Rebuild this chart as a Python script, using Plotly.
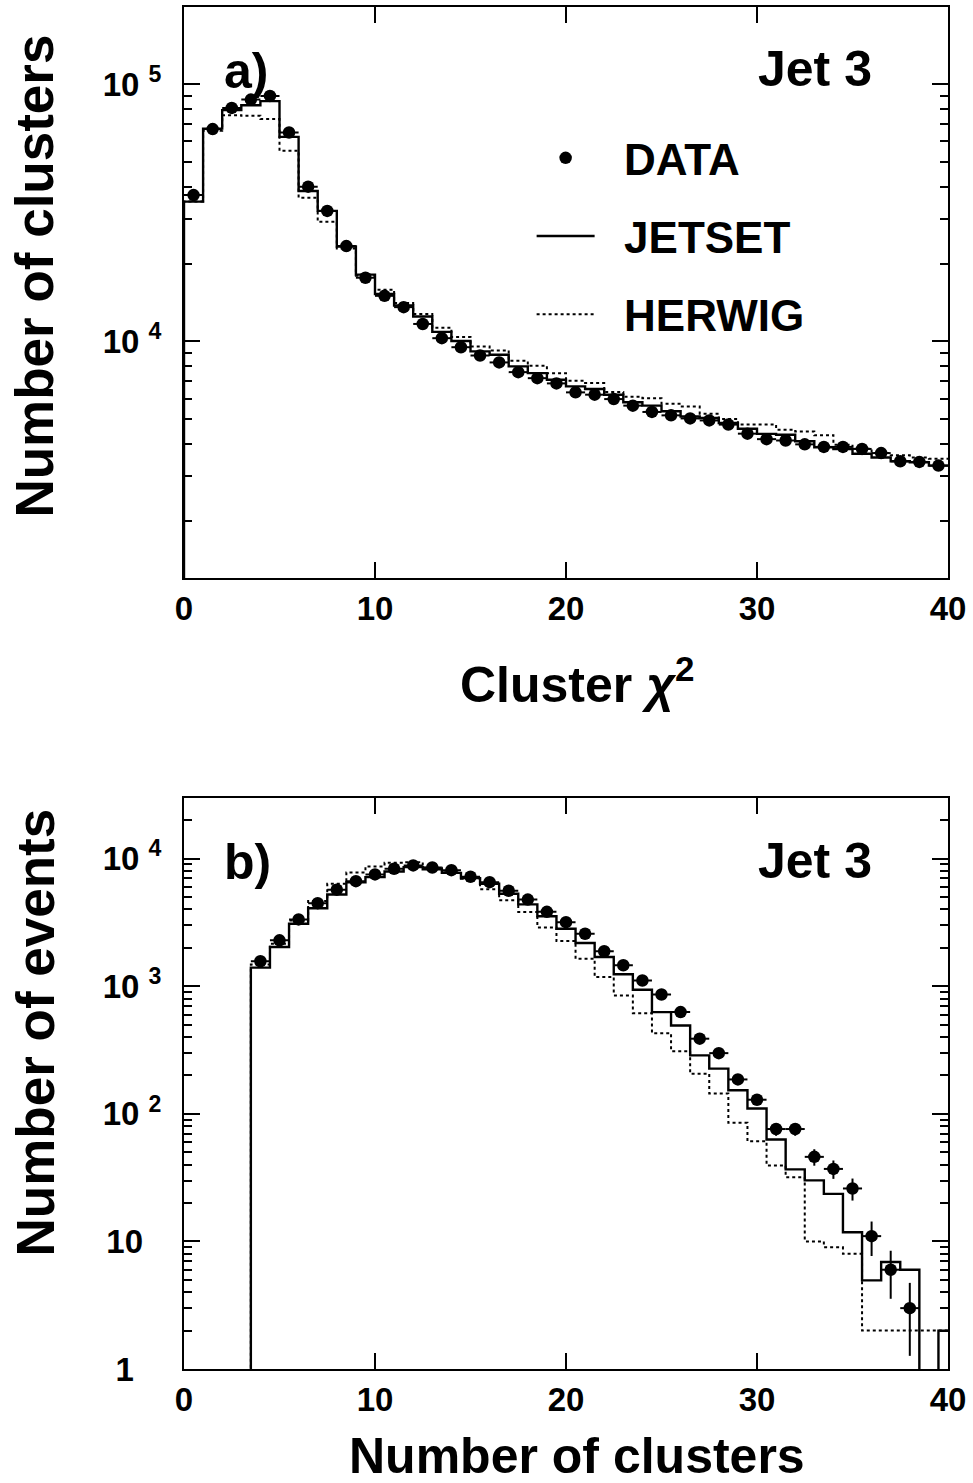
import numpy as np
import plotly.graph_objects as go

# ---------------- panel a): cluster chi2, unit bins from 0 to 40 ----------------
chi2_lo = 0.0
chi2_width = 1.0
chi2_data = [37100, 67000, 81000, 87300, 90200, 65000, 40000, 32200, 23500, 17700,
             15050, 13600, 11700, 10300, 9500, 8820, 8290, 7600, 7200, 6870,
             6340, 6210, 5970, 5630, 5320, 5160, 5020, 4930, 4750, 4380,
             4170, 4120, 3980, 3890, 3890, 3820, 3680, 3420, 3400, 3290]
chi2_jetset = [35000, 67300, 79400, 83000, 86100, 62500, 38500, 32200, 23400, 18200,
               15300, 13800, 12500, 10900, 10050, 9150, 8880, 8000, 7530, 7100,
               6690, 6530, 6210, 5800, 5630, 5350, 5110, 5040, 4820, 4580,
               4370, 4340, 4090, 3880, 3820, 3660, 3540, 3420, 3390, 3290]
chi2_herwig = [35000, 66000, 75900, 75500, 73300, 55200, 36200, 29200, 23000, 18000,
               15900, 14100, 12800, 11300, 10400, 9560, 9230, 8410, 8050, 7530,
               7040, 6890, 6360, 6100, 6020, 5730, 5590, 5240, 4990, 4750,
               4750, 4540, 4470, 4320, 3970, 3830, 3680, 3610, 3540, 3500]

# ---------------- panel b): clusters per event, n = 4 .. 40 ----------------
ncl_first = 4
ncl_data = [1570, 2290, 3340, 4480, 5710, 6660, 7520, 8330, 8850, 8530,
            8130, 7210, 6540, 5600, 4780, 3830, 3180, 2580, 1880, 1460,
            1110, 862, 627, 388, 299, 186, 129, 76, 76, 46,
            37, 26, 11, 6, 3, 0, 0]
ncl_jetset = [1400, 2030, 3090, 4090, 5240, 6540, 7160, 7940, 8580, 8260,
              7730, 7040, 6360, 5310, 4380, 3540, 2820, 2180, 1695, 1240,
              939, 627, 493, 287, 226, 153, 110, 63, 36.7, 30.1,
              23.6, 11.8, 4.95, 6.9, 6.0, 0, 2.0]
ncl_herwig = [1480, 2150, 3280, 4650, 6360, 7800, 8690, 9300, 9390, 8500,
              7840, 6960, 5770, 4730, 3810, 2890, 2260, 1640, 1180, 847,
              615, 429, 310, 206, 144, 85, 61, 39.4, 31.9, 10,
              9, 8, 2, 2, 2, 2, 2]

# tick labels
x_ticks = [0, 10, 20, 30, 40]
ya_ticks = [1e4, 1e5]
ya_labels = ["10 <sup>4</sup>", "10 <sup>5</sup>"]
yb_ticks = [1, 10, 100, 1000, 10000]
yb_labels = ["1\u00a0\u00a0\u00a0", "10\u00a0\u00a0", "10 <sup>2</sup>", "10 <sup>3</sup>", "10 <sup>4</sup>"]

FONT = "Liberation Sans"
FLOOR = 1e-3  # empty bins are drawn down to below the axis


def step_xy(lo, width, vals):
    """Histogram outline: edges and contents for an 'hv' line."""
    edges = lo + width * np.arange(len(vals) + 1)
    y = [v if v > 0 else FLOOR for v in vals]
    xs = [edges[0]] + list(edges)
    ys = [FLOOR] + y + [y[-1]]
    return xs, ys


fig = go.Figure()


def add_panel(xref, yref, lo, width, data, jetset, herwig, show_legend):
    xs, ys = step_xy(lo, width, jetset)
    fig.add_trace(go.Scatter(x=xs, y=ys, mode="lines", line=dict(color="black", width=2.4, shape="hv"),
                             name="\u00a0\u00a0JETSET", legendgroup="j", showlegend=show_legend,
                             xaxis=xref, yaxis=yref))
    xs, ys = step_xy(lo, width, herwig)
    fig.add_trace(go.Scatter(x=xs, y=ys, mode="lines",
                             line=dict(color="black", width=2, shape="hv", dash="dot"),
                             name="\u00a0\u00a0HERWIG", legendgroup="h", showlegend=show_legend,
                             xaxis=xref, yaxis=yref))
    centres = lo + width * (np.arange(len(data)) + 0.5)
    keep = [i for i, v in enumerate(data) if v > 0]
    px = [centres[i] for i in keep]
    py = [data[i] for i in keep]
    fig.add_trace(go.Scatter(x=px, y=py, mode="markers",
                             marker=dict(color="black", size=12.5, symbol="circle"),
                             error_x=dict(type="constant", value=width / 2, color="black", thickness=2, width=0),
                             error_y=dict(type="data", array=list(np.sqrt(py)), color="black", thickness=2, width=0),
                             name="\u00a0\u00a0DATA", legendgroup="d", legendrank=1, showlegend=show_legend,
                             xaxis=xref, yaxis=yref))


add_panel("x", "y", chi2_lo, chi2_width, chi2_data, chi2_jetset, chi2_herwig, True)
add_panel("x2", "y2", ncl_first - 0.5, 1.0, ncl_data, ncl_jetset, ncl_herwig, False)

tickfont = dict(family=FONT, size=33, color="black", weight="bold")
common_x = dict(range=[0, 40], tickmode="array", tickvals=x_ticks, ticktext=[str(v) for v in x_ticks],
                ticks="inside", ticklen=16, tickwidth=2, tickcolor="black",
                showline=True, linewidth=2, linecolor="black", mirror="ticks",
                showgrid=False, zeroline=False, tickfont=tickfont, ticklabelstandoff=0)
common_y = dict(type="log", tickmode="array", ticks="inside", ticklen=16, tickwidth=2, tickcolor="black",
                showline=True, linewidth=2, linecolor="black", mirror="ticks",
                showgrid=False, zeroline=False, tickfont=tickfont, ticklabelstandoff=14)


def minor_vals(lo_dec, hi_dec, vmin, vmax):
    out = []
    for d in range(lo_dec, hi_dec + 1):
        for m in range(2, 10):
            v = m * 10 ** d
            if vmin < v < vmax:
                out.append(v)
    return out


ya_min, ya_max = 1200, 2e5
yb_min, yb_max = 1, 3e4

fig.update_layout(
    width=973, height=1483,
    margin=dict(l=184, r=25, t=5, b=114),
    paper_bgcolor="white", plot_bgcolor="white",
    font=dict(family=FONT, color="black"),
    xaxis=dict(domain=[0, 1], anchor="y", **common_x),
    yaxis=dict(domain=[0.5806, 1], anchor="x", range=[np.log10(ya_min), np.log10(ya_max)],
               tickvals=ya_ticks, ticktext=ya_labels,
               minor=dict(tickmode="array", tickvals=minor_vals(3, 5, ya_min, ya_max),
                          ticks="inside", ticklen=8, tickwidth=2, tickcolor="black", showgrid=False),
               **common_y),
    xaxis2=dict(domain=[0, 1], anchor="y2", **common_x),
    yaxis2=dict(domain=[0, 0.4194], anchor="x2", range=[np.log10(yb_min), np.log10(yb_max)],
                tickvals=yb_ticks, ticktext=yb_labels,
                minor=dict(tickmode="array", tickvals=minor_vals(0, 4, yb_min, yb_max),
                           ticks="inside", ticklen=8, tickwidth=2, tickcolor="black", showgrid=False),
                **common_y),
    showlegend=True,
    legend=dict(x=0.455, y=0.915, xanchor="left", yanchor="top", bgcolor="rgba(0,0,0,0)",
                font=dict(family=FONT, size=44, color="black", weight="bold"),
                itemwidth=58, tracegroupgap=18, traceorder="grouped"),
)


def label(text, x, y, size, xanchor="left", angle=0):
    fig.add_annotation(text=text, x=x, y=y, xref="paper", yref="paper", showarrow=False,
                       xanchor=xanchor, yanchor="middle", textangle=angle,
                       font=dict(family=FONT, size=size, color="black", weight="bold"))


label("a)", 0.0497, 0.953, 50)
label("Jet 3", 0.749, 0.9545, 50)
label("b)", 0.0497, 0.3725, 50)
label("Jet 3", 0.749, 0.3732, 50)
label("Number of clusters", -0.195, 0.8021, 53, xanchor="center", angle=-90)
label("Number of events", -0.195, 0.2471, 53, xanchor="center", angle=-90)
label("Cluster <i>\u03c7</i><sup>2</sup>", 0.5144, 0.5051, 50, xanchor="center")
label("Number of clusters", 0.5144, -0.0638, 50, xanchor="center")

fig.write_html("out.html")
